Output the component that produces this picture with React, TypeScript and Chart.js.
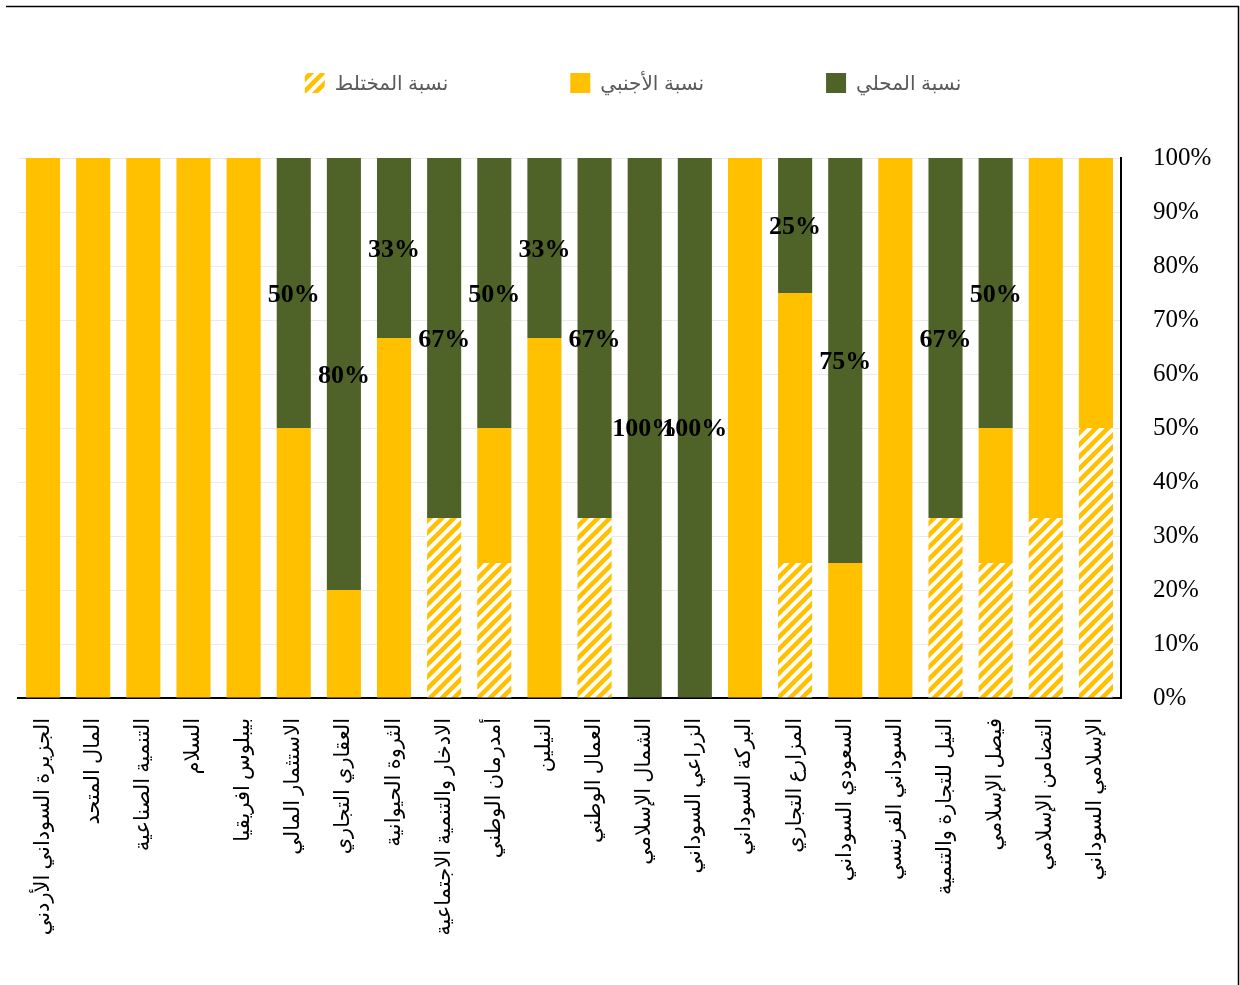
import React, { useEffect, useRef } from "react";
import { Chart, registerables } from "chart.js";

Chart.register(...registerables);

const categories = [
  "الجزيرة السوداني الأردني",
  "المال المتحد",
  "التنمية الصناعية",
  "السلام",
  "بيبلوس افريقيا",
  "الاستثمار المالي",
  "العقاري التجاري",
  "الثروة الحيوانية",
  "الادخار والتنمية الاجتماعية",
  "أمدرمان الوطني",
  "النيلين",
  "العمال الوطني",
  "الشمال الإسلامي",
  "الزراعي السوداني",
  "البركة السوداني",
  "المزارع التجاري",
  "السعودي السوداني",
  "السوداني الفرنسي",
  "النيل للتجارة والتنمية",
  "فيصل الإسلامي",
  "التضامن الإسلامي",
  "الإسلامي السوداني",
];

const localPct = [0, 0, 0, 0, 0, 50, 80, 33.33, 66.67, 50, 33.33, 66.67, 100, 100, 0, 25, 75, 0, 66.67, 50, 0, 0];
const foreignPct = [100, 100, 100, 100, 100, 50, 20, 66.67, 0, 25, 66.67, 0, 0, 0, 100, 50, 25, 100, 0, 25, 66.67, 50];
const mixedPct = [0, 0, 0, 0, 0, 0, 0, 0, 33.33, 25, 0, 33.33, 0, 0, 0, 25, 0, 0, 33.33, 25, 33.33, 50];

const seriesNames = ["نسبة المختلط", "نسبة الأجنبي", "نسبة المحلي"];
const yTickStep = 10;
const yMax = 100;

const GREEN = "#4F6228";
const YELLOW = "#FFC000";

function makeHatch(): CanvasPattern | string {
  const c = document.createElement("canvas");
  const s = 12;
  c.width = s;
  c.height = s;
  const g = c.getContext("2d");
  if (!g) return YELLOW;
  g.fillStyle = "#ffffff";
  g.fillRect(0, 0, s, s);
  g.strokeStyle = YELLOW;
  g.lineWidth = 4.5;
  g.lineCap = "square";
  g.beginPath();
  g.moveTo(-2, s + 2);
  g.lineTo(s + 2, -2);
  g.moveTo(-3, 3);
  g.lineTo(3, -3);
  g.moveTo(s - 3, s + 3);
  g.lineTo(s + 3, s - 3);
  g.stroke();
  const p = g.createPattern(c, "repeat");
  return p || YELLOW;
}

export default function App() {
  const ref = useRef<HTMLCanvasElement | null>(null);

  useEffect(() => {
    const canvas = ref.current;
    if (!canvas) return;
    const hatch = makeHatch();
    const colors: any[] = [hatch, YELLOW, GREEN];

    const labelPlugin = {
      id: "localLabels",
      afterDatasetsDraw(chart: any) {
        const ctx = chart.ctx;
        const meta = chart.getDatasetMeta(2);
        ctx.save();
        ctx.font = "bold 26px 'Liberation Serif', 'Times New Roman', serif";
        ctx.fillStyle = "#000000";
        ctx.textAlign = "center";
        ctx.textBaseline = "middle";
        meta.data.forEach((el: any, i: number) => {
          const v = localPct[i];
          if (!v) return;
          const pt = el.getCenterPoint();
          ctx.fillText(Math.round(v) + "%", pt.x, pt.y + 2);
        });
        ctx.restore();
      },
    };

    const legendPlugin = {
      id: "customLegend",
      afterDraw(chart: any) {
        const ctx = chart.ctx;
        ctx.save();
        // frame lines of the original picture
        ctx.strokeStyle = "#000000";
        ctx.lineWidth = 1.5;
        ctx.beginPath();
        ctx.moveTo(6, 6.5);
        ctx.lineTo(1239, 6.5);
        ctx.moveTo(1238.5, 6);
        ctx.lineTo(1238.5, 985);
        ctx.stroke();

        ctx.font = "20px 'Liberation Sans', Arial, 'DejaVu Sans', sans-serif";
        ctx.textBaseline = "middle";
        ctx.textAlign = "left";
        const box = 20;
        const gapText = 10;
        const gapItem = 122;
        const widths = seriesNames.map((n) => ctx.measureText(n).width);
        const total =
          widths.reduce((a: number, w: number) => a + box + gapText + w, 0) + gapItem * (seriesNames.length - 1);
        let x = 633 - total / 2;
        const cy = 83;
        seriesNames.forEach((n, i) => {
          ctx.fillStyle = colors[i];
          ctx.fillRect(x, cy - box / 2, box, box);
          ctx.fillStyle = "#595959";
          ctx.fillText(n, x + box + gapText, cy + 1);
          x += box + gapText + widths[i] + gapItem;
        });
        ctx.restore();
      },
    };

    const chart = new Chart(canvas, {
      type: "bar",
      data: {
        labels: categories,
        datasets: [
          { label: seriesNames[0], data: mixedPct, backgroundColor: hatch as any, borderWidth: 0 },
          { label: seriesNames[1], data: foreignPct, backgroundColor: YELLOW, borderWidth: 0 },
          { label: seriesNames[2], data: localPct, backgroundColor: GREEN, borderWidth: 0 },
        ],
      },
      options: {
        responsive: false,
        animation: false,
        devicePixelRatio: 1,
        layout: { padding: { left: 18, top: 158, right: 0, bottom: 0 } },
        datasets: { bar: { barPercentage: 0.68, categoryPercentage: 1 } },
        plugins: {
          legend: { display: false },
          tooltip: { enabled: false },
          title: { display: false },
        },
        scales: {
          x: {
            stacked: true,
            grid: { display: false, drawTicks: false },
            border: { display: true, color: "#000000", width: 2 },
            ticks: {
              autoSkip: false,
              minRotation: 90,
              maxRotation: 90,
              padding: 20,
              color: "#000000",
              font: { size: 21, family: "'Liberation Serif', 'Times New Roman', 'DejaVu Sans', serif" },
            },
            afterFit(scale: any) {
              scale.height = 985 - 698;
            },
          },
          y: {
            stacked: true,
            position: "right",
            min: 0,
            max: yMax,
            grid: { display: true, drawTicks: false, color: "#ebebeb", lineWidth: 1 },
            border: { display: true, color: "#000000", width: 2 },
            ticks: {
              stepSize: yTickStep,
              padding: 32,
              color: "#000000",
              font: { size: 25, family: "'Liberation Serif', 'Times New Roman', serif" },
              callback: (v: any) => v + "%",
            },
            afterFit(scale: any) {
              scale.width = 1240 - 1121;
            },
          },
        },
      },
      plugins: [labelPlugin, legendPlugin],
    });
    return () => chart.destroy();
  }, []);

  return (
    <div style={{ position: "absolute", left: 0, top: 0, width: 1240, height: 985, background: "#ffffff" }}>
      <canvas ref={ref} width={1240} height={985} style={{ display: "block", width: 1240, height: 985 }} />
    </div>
  );
}
